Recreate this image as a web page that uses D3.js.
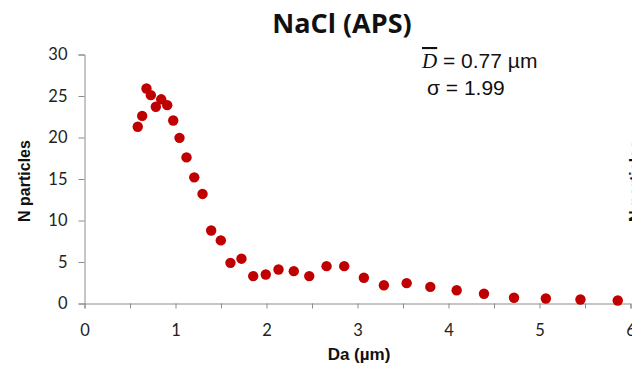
<!DOCTYPE html>
<html>
<head>
<meta charset="utf-8">
<script src="https://cdn.jsdelivr.net/npm/d3@7"></script>
<style>
  body { margin: 0; background: #fff; }
  svg { display: block; }
</style>
</head>
<body>
<svg id="chart"></svg>
<script>
// particle size distribution
const diameters = [0.585, 0.634, 0.681, 0.729, 0.784, 0.843, 0.909, 0.975, 1.044, 1.121,
  1.206, 1.297, 1.392, 1.498, 1.604, 1.725, 1.854, 1.992, 2.132, 2.30,
  2.47, 2.66, 2.854, 3.07, 3.29, 3.54, 3.80, 4.09, 4.39, 4.72,
  5.07, 5.45, 5.86];
const counts = [21.3, 22.6, 25.9, 25.1, 23.7, 24.6, 23.9, 22.05, 19.96, 17.6,
  15.2, 13.2, 8.8, 7.6, 4.9, 5.4, 3.3, 3.5, 4.1, 3.9,
  3.3, 4.5, 4.5, 3.1, 2.2, 2.45, 2.0, 1.6, 1.17, 0.69,
  0.6, 0.48, 0.36];
const xTicks = [0, 1, 2, 3, 4, 5, 6];
const xMinorTicks = [0, 0.5, 1, 1.5, 2, 2.5, 3, 3.5, 4, 4.5, 5, 5.5, 6];
const yTicks = [0, 5, 10, 15, 20, 25, 30];

const W = 632, H = 374;
const svg = d3.select('#chart').attr('width', W).attr('height', H);

const x = d3.scaleLinear().domain([0, 6]).range([84.5, 630.5]);
const y = d3.scaleLinear().domain([0, 30]).range([303.5, 54.5]);

const axisColor = '#8c8c8c';
const calibri = 'Lato, "Open Sans", sans-serif';
const arial = '"Liberation Sans", Arial, sans-serif';

// y axis
const yAxis = svg.append('g')
  .attr('transform', 'translate(84.5,0)')
  .call(d3.axisLeft(y).tickValues(yTicks).tickSize(6).tickPadding(11).tickFormat(d3.format('d')));
yAxis.select('.domain').attr('stroke', axisColor);
yAxis.selectAll('.tick line').attr('stroke', axisColor);
yAxis.selectAll('.tick text')
  .attr('fill', '#222').style('font-family', calibri).style('font-size', '16.5px');

// x axis
const xAxisMinor = svg.append('g')
  .attr('transform', 'translate(0,303.5)')
  .call(d3.axisBottom(x).tickValues(xMinorTicks).tickSize(5).tickFormat(''));
xAxisMinor.select('.domain').attr('stroke', axisColor);
xAxisMinor.selectAll('.tick line').attr('stroke', axisColor);

const xAxis = svg.append('g')
  .attr('transform', 'translate(0,303.5)')
  .call(d3.axisBottom(x).tickValues(xTicks).tickSize(0).tickPadding(21).tickFormat(d3.format('d')));
xAxis.select('.domain').remove();
xAxis.selectAll('.tick text')
  .attr('fill', '#222').style('font-family', calibri).style('font-size', '16.5px');

// points
svg.append('g').selectAll('circle')
  .data(diameters)
  .enter().append('circle')
  .attr('cx', d => x(d))
  .attr('cy', (d, i) => y(counts[i]))
  .attr('r', 5.2)
  .attr('fill', '#c00000');

// title
svg.append('text')
  .attr('x', 342).attr('y', 33)
  .attr('text-anchor', 'middle')
  .style('font-family', '"Open Sans", sans-serif').style('font-weight', 'bold').style('font-size', '27px')
  .attr('fill', '#111')
  .text('NaCl (APS)');

// axis titles
svg.append('text')
  .attr('x', 359).attr('y', 360)
  .attr('text-anchor', 'middle')
  .style('font-family', arial).style('font-weight', 'bold').style('font-size', '17px')
  .attr('fill', '#111')
  .text('Da (µm)');

svg.append('text')
  .attr('transform', 'translate(30,181) rotate(-90)')
  .attr('text-anchor', 'middle')
  .style('font-family', arial).style('font-weight', 'bold').style('font-size', '16px')
  .attr('fill', '#111')
  .text('N particles');

// label of the neighbouring chart, clipped by the edge
svg.append('text')
  .attr('transform', 'translate(641,181) rotate(-90)')
  .attr('text-anchor', 'middle')
  .style('font-family', arial).style('font-weight', 'bold').style('font-size', '16px')
  .attr('fill', '#111')
  .text('N particles');

// stats annotation
const note = svg.append('g')
  .style('font-family', arial).style('font-size', '21px')
  .attr('fill', '#111');
const l1 = note.append('text').attr('x', 422).attr('y', 68);
l1.append('tspan')
  .style('font-family', '"Liberation Serif", "Times New Roman", serif').style('font-style', 'italic')
  .style('text-decoration', 'overline')
  .text('D');
l1.append('tspan').text(' = 0.77 µm');
note.append('text').attr('x', 427).attr('y', 95).text('σ = 1.99');
</script>
</body>
</html>
